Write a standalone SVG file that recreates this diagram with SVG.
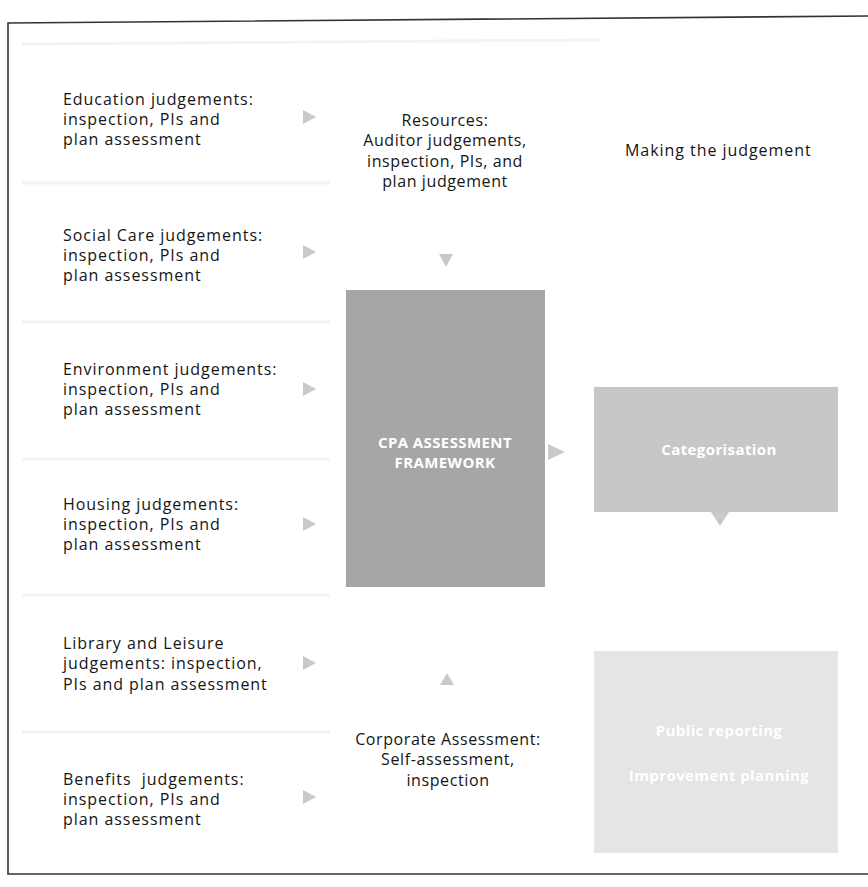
<svg xmlns="http://www.w3.org/2000/svg" width="868" height="887" viewBox="0 0 868 887">
  <style>
    .lbl { font-family: "Open Sans", "Liberation Sans", sans-serif; font-size: 16px; fill: #151515; letter-spacing: 0.6px; white-space: pre; }
    .wide { letter-spacing: 0.95px; }
    .mid { text-anchor: middle; }
    .box-t { font-family: "Open Sans", "Liberation Sans", sans-serif; font-size: 15px; font-weight: bold; fill: #ffffff; text-anchor: middle; letter-spacing: 0.4px; }
    .arrow { fill: #c9c9c9; }
    .band { stroke: #f3f3f3; stroke-width: 3; }
  </style>

  <!-- page background and frame -->
  <rect width="868" height="887" fill="#ffffff"/>
  <g id="background">
    <line class="band" x1="22" y1="183" x2="330" y2="183"/>
    <line class="band" x1="22" y1="322" x2="330" y2="322"/>
    <line class="band" x1="22" y1="459" x2="330" y2="459"/>
    <line class="band" x1="22" y1="595" x2="330" y2="595"/>
    <line class="band" x1="22" y1="732" x2="330" y2="732"/>
    <line class="band" x1="22" y1="44" x2="600" y2="40"/>
  </g>
  <path id="frame" d="M868,16 L8,23 L8,874 L868,874" fill="none" stroke="#333333" stroke-width="1.6"/>

  <!-- service judgements column -->
  <g id="education">
    <text class="lbl wide" x="63" y="105">Education judgements:</text>
    <text class="lbl wide" x="63" y="125">inspection, PIs and</text>
    <text class="lbl wide" x="63" y="145">plan assessment</text>
  </g>
  <g id="social-care">
    <text class="lbl wide" x="63" y="241">Social Care judgements:</text>
    <text class="lbl wide" x="63" y="261">inspection, PIs and</text>
    <text class="lbl wide" x="63" y="281">plan assessment</text>
  </g>
  <g id="environment">
    <text class="lbl wide" x="63" y="375">Environment judgements:</text>
    <text class="lbl wide" x="63" y="395">inspection, PIs and</text>
    <text class="lbl wide" x="63" y="415">plan assessment</text>
  </g>
  <g id="housing">
    <text class="lbl wide" x="63" y="510">Housing judgements:</text>
    <text class="lbl wide" x="63" y="530">inspection, PIs and</text>
    <text class="lbl wide" x="63" y="550">plan assessment</text>
  </g>
  <g id="library-leisure">
    <text class="lbl wide" x="63" y="649">Library and Leisure</text>
    <text class="lbl wide" x="63" y="669">judgements: inspection,</text>
    <text class="lbl wide" x="63" y="690">PIs and plan assessment</text>
  </g>
  <g id="benefits">
    <text class="lbl wide" x="63" y="785">Benefits  judgements:</text>
    <text class="lbl wide" x="63" y="805">inspection, PIs and</text>
    <text class="lbl wide" x="63" y="825">plan assessment</text>
  </g>

  <!-- centre column -->
  <g id="resources">
    <text class="lbl mid" x="445" y="126">Resources:</text>
    <text class="lbl mid" x="445" y="146">Auditor judgements,</text>
    <text class="lbl mid" x="445" y="167">inspection, PIs, and</text>
    <text class="lbl mid" x="445" y="187">plan judgement</text>
  </g>
  <g id="cpa-framework">
    <rect x="346" y="290" width="199" height="297" fill="#a6a6a6"/>
    <text class="box-t" x="445" y="448">CPA ASSESSMENT</text>
    <text class="box-t" x="445" y="468">FRAMEWORK</text>
  </g>
  <g id="corporate-assessment">
    <text class="lbl mid" x="448" y="745">Corporate Assessment:</text>
    <text class="lbl mid" x="448" y="765">Self-assessment,</text>
    <text class="lbl mid" x="448" y="786">inspection</text>
  </g>

  <!-- right column -->
  <g id="making-judgement">
    <text class="lbl wide" x="625" y="156">Making the judgement</text>
  </g>
  <g id="categorisation">
    <rect x="594" y="387" width="244" height="125" fill="#c7c7c7"/>
    <text class="box-t" x="719" y="455">Categorisation</text>
  </g>
  <g id="reporting-planning">
    <rect x="594" y="651" width="244" height="202" fill="#e5e5e5"/>
    <text class="box-t" x="719" y="736">Public reporting</text>
    <text class="box-t" x="719" y="781">Improvement planning</text>
  </g>

  <!-- connectors: small triangular arrowheads -->
  <g id="connectors">
    <polygon class="arrow" points="303,110 316,117 303,124"/>
    <polygon class="arrow" points="303,245 316,252 303,259"/>
    <polygon class="arrow" points="303,382 316,389 303,396"/>
    <polygon class="arrow" points="303,517 316,524 303,531"/>
    <polygon class="arrow" points="303,656 316,663 303,670"/>
    <polygon class="arrow" points="303,790 316,797 303,804"/>
    <polygon class="arrow" points="439,254 453,254 446,267"/>
    <polygon class="arrow" points="548,444 565,452 548,460"/>
    <polygon class="arrow" points="711,512 729,512 720,526"/>
    <polygon class="arrow" points="440,685 454,685 447,673"/>
  </g>
</svg>
